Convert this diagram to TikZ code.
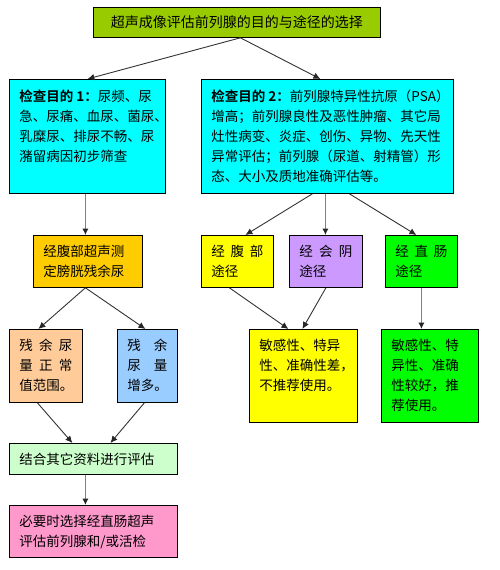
\documentclass[tikz,border=0pt]{standalone}
\usepackage{fontspec}
\setmainfont{Noto Sans CJK SC}[BoldFont={Noto Sans CJK SC Bold}]
\usetikzlibrary{arrows.meta}
\definecolor{cTop}{HTML}{99CC00}
\definecolor{cCyan}{HTML}{00FFFF}
\definecolor{cOrange}{HTML}{FFCC00}
\definecolor{cYellow}{HTML}{FFFF00}
\definecolor{cPurple}{HTML}{CC99FF}
\definecolor{cGreen}{HTML}{00FF00}
\definecolor{cPeach}{HTML}{FFCC99}
\definecolor{cBlue}{HTML}{99CCFF}
\definecolor{cLightGreen}{HTML}{CCFFCC}
\definecolor{cPink}{HTML}{FF99CC}
\tikzset{
  box/.style={draw=black, line width=0.8pt, inner sep=10pt, anchor=north west,
    font=\fontsize{13.5}{20}\selectfont},
  arr/.style={draw=black!80, line width=0.9pt, -{Latex[length=7pt,width=6.5pt,color=black!85]}},
  varr/.style={draw=black!50, line width=1.5pt, -{Latex[length=6.5pt,width=6.5pt,color=black!85]}}
}
\newcommand\mybox[7]{%
  \node[box, fill=#6, minimum width=#4pt, minimum height=#5pt] (#1) at (#2,#3)
    {\parbox[t][\dimexpr#5pt-20pt\relax][t]{\dimexpr#4pt-20pt\relax}{\raggedright #7}};}
\newcommand\jl[1]{\leavevmode\hbox to\linewidth{#1}}
\begin{document}
\begin{tikzpicture}[x=1pt,y=-1pt]
\useasboundingbox (0,0) rectangle (500,570);
\node[draw=black, line width=0.8pt, fill=cTop, anchor=north west, minimum width=287pt, minimum height=30pt,
  inner sep=0pt, font=\fontsize{14}{20}\selectfont] (top) at (93,7) {超声成像评估前列腺的目的与途径的选择};
\mybox{b1}{9}{79}{156}{114}{cCyan}{{\bfseries 检查目的 1：}尿频、尿\\急、尿痛、血尿、菌尿、\\乳糜尿、排尿不畅、尿\\潴留病因初步筛查}
\mybox{b2}{201}{79}{252}{114}{cCyan}{\mbox{{\bfseries 检查目的\hspace{3pt}2：}前列腺特异性抗原（PSA）}\\增高；前列腺良性及恶性肿瘤、其它局\\灶性病变、炎症、创伤、异物、先天性\\异常评估；前列腺（尿道、射精管）形\\态、大小及质地准确评估等。}
\mybox{or}{33}{235}{109}{52}{cOrange}{经腹部超声测\\定膀胱残余尿}
\mybox{yw}{201}{235}{72}{52}{cYellow}{\jl{经\hfill 腹\hfill 部}\\途径}
\mybox{pw}{289}{235}{73}{52}{cPurple}{\jl{经\hfill 会\hfill 阴}\\途径}
\mybox{gw}{385}{235}{72}{52}{cGreen}{\jl{经\hfill 直\hfill 肠}\\途径}
\mybox{pe}{9}{329}{73}{73}{cPeach}{\jl{残\hfill 余\hfill 尿}\\\jl{量\hfill 正\hfill 常}\\值范围。}
\mybox{bl}{117}{329}{60}{73}{cBlue}{\jl{残\hfill 余}\\\jl{尿\hfill 量}\\增多。}
\mybox{yr}{249}{329}{108}{93}{cYellow}{敏感性、特异\\性、准确性差，\\不推荐使用。}
\mybox{gr}{381}{329}{97}{93}{cGreen}{敏感性、特\\异性、准确\\性较好，推\\荐使用。}
\mybox{lg}{9}{443}{168}{31}{cLightGreen}{结合其它资料进行评估}
\mybox{pk}{9}{505}{168}{52}{cPink}{必要时选择经直肠超声\\评估前列腺和/或活检}
\draw[arr] ([xshift=3.5pt]top.south) -- (b1.north);
\draw[arr] ([xshift=3.5pt]top.south) -- ([xshift=-7pt]b2.north);
\draw[varr] ([xshift=-2pt]b1.south) -- ([xshift=-2.5pt]or.north);
\draw[arr] ([xshift=-15pt]b2.south) -- ([xshift=8pt]yw.north);
\draw[varr] ([xshift=-2pt]b2.south) -- ([xshift=-0.5pt]pw.north);
\draw[arr] ([xshift=22pt]b2.south) -- ([xshift=-5pt]gw.north);
\draw[arr] ([xshift=-2.5pt]or.south) -- ([xshift=-7.5pt]pe.north);
\draw[arr] ([xshift=-2.5pt]or.south) -- ([xshift=-2pt]bl.north);
\draw[arr] ([xshift=-8pt]yw.south) -- ([xshift=-15pt]yr.north);
\draw[arr] ([xshift=0pt]pw.south) -- ([xshift=-1pt]yr.north);
\draw[varr] ([xshift=0pt]gw.south) -- ([xshift=-8.5pt]gr.north);
\draw[arr] ([xshift=-8.5pt]pe.south) -- ([xshift=-21pt]lg.north);
\draw[arr] ([xshift=-3pt]bl.south) -- ([xshift=17pt]lg.north);
\draw[varr] ([xshift=-8pt]lg.south) -- ([xshift=-8pt]pk.north);
\end{tikzpicture}
\end{document}
